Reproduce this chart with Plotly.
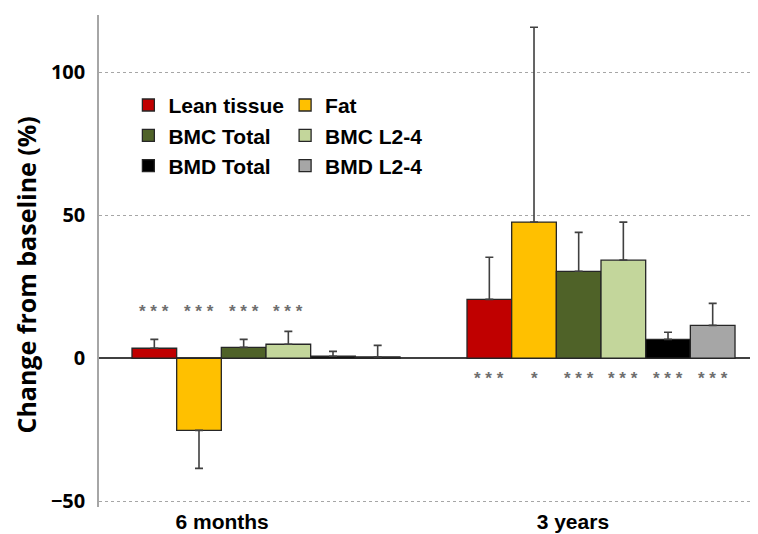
import plotly.graph_objects as go

categories = ["6 months", "3 years"]
series = ["Lean tissue", "Fat", "BMC Total", "BMC L2-4", "BMD Total", "BMD L2-4"]
colors = ["#C00000", "#FFC000", "#4F6228", "#C3D69B", "#000000", "#A6A6A6"]

lean = [3.5, 20.6]
fat = [-25.2, 47.6]
bmc_total = [3.8, 30.4]
bmc_l24 = [4.9, 34.3]
bmd_total = [0.7, 6.6]
bmd_l24 = [0.5, 11.5]

err_lean = [3.1, 14.7]
err_fat = [13.3, 68.1]
err_bmc_total = [2.8, 13.6]
err_bmc_l24 = [4.5, 13.3]
err_bmd_total = [1.7, 2.5]
err_bmd_l24 = [4.0, 7.7]

stars_6m = ["***", "***", "***", "***", "", ""]
stars_3y = ["***", "*", "***", "***", "***", "***"]

y_ticks = [-50, 0, 50, 100]

values = [lean, fat, bmc_total, bmc_l24, bmd_total, bmd_l24]
errors = [err_lean, err_fat, err_bmc_total, err_bmc_l24, err_bmd_total, err_bmd_l24]

ARIAL = "Liberation Sans, Arial, sans-serif"
SANS = "Open Sans, Noto Sans, sans-serif"
xpos = [0, 1]
label_shift = [-0.131, -0.084]   # category labels sit left of group centres

fig = go.Figure()
for i, (name, vals, errs, col) in enumerate(zip(series, values, errors, colors)):
    plus = [e if v >= 0 else 0 for v, e in zip(vals, errs)]
    minus = [e if v < 0 else 0 for v, e in zip(vals, errs)]
    fig.add_trace(go.Bar(
        x=xpos, y=vals, name=name,
        marker=dict(color=col, line=dict(color="#262626", width=1.3)),
        error_y=dict(type="data", symmetric=False, array=plus, arrayminus=minus,
                     color="#404040", thickness=1.6, width=4),
        legend="legend" if i % 2 == 0 else "legend2",
        legendgroup=name,
    ))

# significance stars
nser = len(series)
bw = 0.8 / nser
for ci, (stars, ypos) in enumerate([(stars_6m, 16.5), (stars_3y, -7.2)]):
    for si, s in enumerate(stars):
        if not s:
            continue
        fig.add_annotation(x=xpos[ci] + (si - (nser - 1) / 2) * bw, y=ypos,
                           xref="x", yref="y", text=" ".join(s), showarrow=False,
                           font=dict(family=ARIAL, size=17, color="#6E6E6E", weight="bold"))

# y-axis title (sits slightly below the plot-area centre in the reference)
fig.add_annotation(x=-0.111, y=0.4715, xref="paper", yref="paper",
                   xanchor="center", yanchor="middle",
                   text="Change from baseline (%)", textangle=-90, showarrow=False,
                   font=dict(family=SANS, size=25, color="#000000", weight="bold"))

legend_common = dict(font=dict(family=ARIAL, size=21, color="#000000", weight="bold"),
                     bgcolor="rgba(0,0,0,0)", tracegroupgap=0, yanchor="top",
                     xanchor="left", orientation="v", itemwidth=30)

fig.update_layout(
    width=750, height=526,
    margin=dict(l=91, r=6, t=7, b=27),
    paper_bgcolor="white", plot_bgcolor="white",
    barmode="group", bargap=0.2, bargroupgap=0,
    showlegend=True,
    legend=dict(x=0.045, y=0.858, **legend_common),
    legend2=dict(x=0.285, y=0.858, **legend_common),
    xaxis=dict(range=[-0.4985, 1.4507], automargin=False,
               tickvals=[p + s for p, s in zip(xpos, label_shift)], ticktext=categories,
               showgrid=False, zeroline=False, showline=False, ticks="",
               tickfont=dict(family=ARIAL, size=21, color="#000000", weight="bold")),
    yaxis=dict(range=[-52, 120], tickvals=y_ticks, automargin=False,
               showgrid=True, gridcolor="#A6A6A6", griddash="dot", gridwidth=1,
               zeroline=True, zerolinecolor="#404040", zerolinewidth=1.5,
               showline=True, linecolor="#A6A6A6", linewidth=1.5,
               ticks="", ticklabelstandoff=8,
               tickfont=dict(family=SANS, size=20, color="#000000", weight="bold")),
)

fig.write_html("out.html")
